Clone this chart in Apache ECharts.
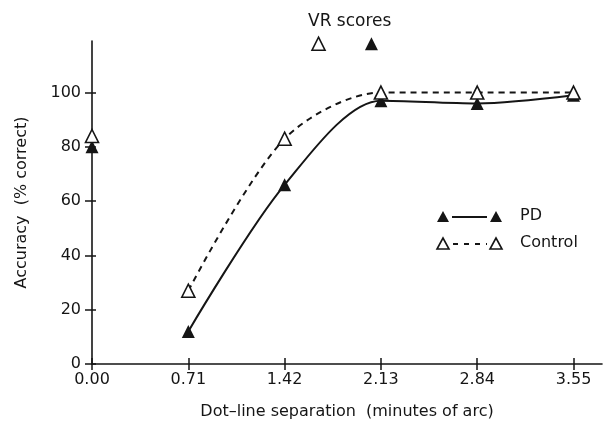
<!DOCTYPE html>
<html>
<head>
<meta charset="utf-8">
<script src="https://cdn.jsdelivr.net/npm/echarts@6/dist/echarts.min.js"></script>
<style>
  html, body { margin: 0; padding: 0; background: #fff; }
  #chart { width: 605px; height: 428px; }
</style>
</head>
<body>
<div id="chart"></div>
<script>
  // separations (minutes of arc) and accuracy (% correct)
  var xTicks = [0, 0.71, 1.42, 2.13, 2.84, 3.55];
  var yTicks = [0, 20, 40, 60, 80, 100];
  var sepCurve = [0.71, 1.42, 2.13, 2.84, 3.55];
  var pdAcc = [12, 66, 97, 96, 99];
  var controlAcc = [27, 83, 100, 100, 100];
  var pdZero = 80;
  var controlZero = 84;
  // VR scores shown above the plot
  var vrControl = [1.67, 118];
  var vrPD = [2.06, 118];

  var ink = '#151515';
  var font = 'DejaVu Sans';

  function pairs(xs, ys) {
    return xs.map(function (x, i) { return [x, ys[i]]; });
  }

  var filled = { color: ink, opacity: 1 };
  var open = { color: '#fff', borderColor: ink, borderWidth: 1.6, opacity: 1 };

  var chart = echarts.init(document.getElementById('chart'));
  chart.setOption({
    animation: false,
    title: {
      text: 'VR scores',
      left: 303, top: 8,
      textStyle: { fontFamily: font, fontSize: 17, fontWeight: 'normal', color: ink }
    },
    grid: { left: 92, right: 3, top: 41, bottom: 64 },
    xAxis: [{
      type: 'value', min: 0, max: 3.76,
      name: 'Dot\u2013line separation  (minutes of arc)',
      nameLocation: 'middle', nameGap: 40,
      nameTextStyle: { fontFamily: font, fontSize: 16, color: ink },
      splitLine: { show: false },
      axisLine: { lineStyle: { color: ink, width: 1.6 } },
      axisTick: { customValues: xTicks, length: 6, lineStyle: { color: ink, width: 1.5 } },
      axisLabel: {
        customValues: xTicks, margin: 8, color: ink, fontFamily: font, fontSize: 16,
        formatter: function (v) { return v.toFixed(2); }
      }
    }, {
      type: 'value', min: 0, max: 3.76, position: 'bottom',
      splitLine: { show: false }, axisLine: { show: false }, axisLabel: { show: false },
      axisTick: { customValues: xTicks, inside: true, length: 6, lineStyle: { color: ink, width: 1.5 } }
    }],
    yAxis: [{
      type: 'value', min: 0, max: 119,
      name: 'Accuracy  (% correct)',
      nameLocation: 'middle', nameGap: 62, nameRotate: 90,
      nameTextStyle: { fontFamily: font, fontSize: 16, color: ink },
      splitLine: { show: false },
      axisLine: { show: true, lineStyle: { color: ink, width: 1.6 } },
      axisTick: { show: true, customValues: yTicks, length: 7, lineStyle: { color: ink, width: 1.5 } },
      axisLabel: { customValues: yTicks, margin: 11, color: ink, fontFamily: font, fontSize: 16 }
    }, {
      type: 'value', min: 0, max: 119, position: 'left', offset: 0,
      splitLine: { show: false }, axisLine: { show: false }, axisLabel: { show: false },
      axisTick: { show: true, customValues: yTicks, inside: true, length: 4, lineStyle: { color: ink, width: 1.5 } }
    }],
    series: [{
      name: 'PD', type: 'line', smooth: 0.3,
      data: pairs(sepCurve, pdAcc),
      symbol: 'triangle', symbolSize: 13, showSymbol: true,
      lineStyle: { color: ink, width: 2 },
      itemStyle: filled, z: 2
    }, {
      name: 'Control', type: 'line', smooth: 0.3,
      data: pairs(sepCurve, controlAcc),
      symbol: 'triangle', symbolSize: 13, showSymbol: true,
      lineStyle: { color: ink, width: 2, type: [6, 5] },
      itemStyle: open, z: 3
    }, {
      type: 'scatter', symbol: 'triangle', symbolSize: 13, clip: false,
      data: [[0, pdZero], vrPD], itemStyle: filled, z: 4
    }, {
      type: 'scatter', symbol: 'triangle', symbolSize: 13, clip: false,
      data: [[0, controlZero], vrControl], itemStyle: open, z: 5
    }],
    graphic: [
      // key: ▲——▲ PD / △- - -△ Control
      { type: 'polygon', shape: { points: [[437, 222], [449, 222], [443, 211]] }, style: { fill: ink } },
      { type: 'line', shape: { x1: 452, y1: 217, x2: 487, y2: 217 }, style: { stroke: ink, lineWidth: 1.8 } },
      { type: 'polygon', shape: { points: [[490, 222], [502, 222], [496, 211]] }, style: { fill: ink } },
      { type: 'text', left: 520, top: 208, style: { text: 'PD', font: '16px DejaVu Sans', fill: ink } },
      { type: 'polygon', shape: { points: [[437, 249], [449, 249], [443, 238]] }, style: { fill: '#fff', stroke: ink, lineWidth: 1.6 } },
      { type: 'line', shape: { x1: 453, y1: 244, x2: 487, y2: 244 }, style: { stroke: ink, lineWidth: 1.8, lineDash: [5, 6] } },
      { type: 'polygon', shape: { points: [[490, 249], [502, 249], [496, 238]] }, style: { fill: '#fff', stroke: ink, lineWidth: 1.6 } },
      { type: 'text', left: 520, top: 235, style: { text: 'Control', font: '16px DejaVu Sans', fill: ink } }
    ]
  });
</script>
</body>
</html>
